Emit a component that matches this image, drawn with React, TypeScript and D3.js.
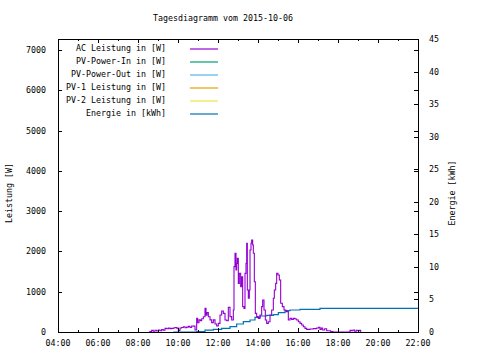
import React from "react";
import * as d3 from "d3";

// chart values
const TITLE = "Tagesdiagramm vom 2015-10-06";

const X_TICKS = ["04:00", "06:00", "08:00", "10:00", "12:00", "14:00", "16:00", "18:00", "20:00", "22:00"];
const Y_TICKS = [0, 1000, 2000, 3000, 4000, 5000, 6000, 7000];
const Y2_TICKS = [0, 5, 10, 15, 20, 25, 30, 35, 40, 45];

const LEGEND_LABELS = [
  "AC Leistung in [W]",
  "PV-Power-In in [W]",
  "PV-Power-Out in [W]",
  "PV-1 Leistung in [W]",
  "PV-2 Leistung in [W]",
  "Energie in [kWh]",
];
const LEGEND_COLORS = ["#9400d3", "#009e73", "#56b4e9", "#e69f00", "#f0e442", "#0072b2"];

const AC_TIMES = [
  "08:34", "08:41", "08:46", "08:51", "08:56", "09:01", "09:06", "09:11", "09:16", "09:21",
  "09:26", "09:31", "09:36", "09:41", "09:46", "09:51", "09:56", "10:01", "10:06", "10:11",
  "10:16", "10:21", "10:26", "10:31", "10:36", "10:41", "10:46", "10:51", "10:56", "10:59",
  "11:03", "11:07", "11:11", "11:16", "11:21", "11:24", "11:27", "11:31", "11:36", "11:41",
  "11:46", "11:51", "11:56", "12:01", "12:06", "12:11", "12:16", "12:21", "12:26", "12:31",
  "12:36", "12:41", "12:46", "12:48", "12:51", "12:54", "12:56", "12:58", "13:01", "13:04",
  "13:08", "13:11", "13:14", "13:18", "13:21", "13:24", "13:26", "13:28", "13:31", "13:34",
  "13:36", "13:39", "13:41", "13:44", "13:46", "13:49", "13:52", "13:56", "14:01", "14:06",
  "14:11", "14:14", "14:18", "14:22", "14:26", "14:31", "14:36", "14:41", "14:46", "14:49",
  "14:53", "14:56", "15:00", "15:04", "15:08", "15:13", "15:18", "15:24", "15:31", "15:36",
  "15:41", "15:46", "15:51", "15:56", "16:01", "16:06", "16:11", "16:16", "16:21", "16:26",
  "16:36", "16:46", "16:56", "17:02", "17:06", "17:10", "17:14", "17:20", "17:26", "17:32",
  "17:38", "17:45", "18:00", "18:30", "18:36", "18:40", "18:45", "18:50", "18:55", "19:00",
  "19:05", "19:08",
];
const AC_WATTS = [
  10, 40, 20, 45, 25, 50, 30, 60, 45, 90,
  80, 95, 85, 90, 100, 110, 95, 40, 100, 110,
  130, 105, 120, 140, 110, 150, 145, 50, 340, 230,
  300, 280, 330, 380, 590, 420, 480, 380, 300, 232,
  300, 199, 149, 215, 422, 521, 463, 298, 281, 612,
  381, 298, 546, 1622, 1953, 1539, 1704, 1828, 1208, 1456,
  1125, 1373, 629, 587, 1456, 1704, 2200, 1042, 836, 1042,
  2035, 2201, 2283, 2159, 1953, 1249, 463, 381, 339, 422,
  629, 794, 546, 298, 215, 256, 422, 546, 836, 1042,
  1208, 1456, 1415, 1291, 712, 629, 546, 505, 298, 339,
  314, 339, 323, 298, 256, 215, 174, 132, 91, 66,
  74, 83, 99, 116, 66, 99, 50, 80, 30, 30,
  10, 0, 0, 0, 40, 33, 50, 20, 45, 30,
  40, 0,
];

const ENERGY_TIMES = [
  "09:46", "10:56", "11:21", "11:46", "12:11", "12:36", "12:56", "13:16", "13:36", "13:51",
  "14:06", "14:26", "14:46", "15:01", "15:21", "15:36", "16:06", "17:06", "22:00",
];
const ENERGY_KWH = [
  0, 0.05, 0.3, 0.41, 0.56, 0.82, 1.23, 1.59, 1.84, 2.25,
  2.46, 2.56, 2.66, 2.97, 3.28, 3.38, 3.48, 3.64, 3.64,
];

const W = 480;
const H = 360;
const plot = { left: 58, right: 418, top: 39, bottom: 332 };
const FONT = "'DejaVu Sans Mono', monospace";
const FS = 8.3;

const toMin = (s: string) => {
  const [h, m] = s.split(":").map(Number);
  return h * 60 + m;
};

export default function App() {
  const x = d3.scaleLinear().domain([toMin("04:00"), toMin("22:00")]).range([plot.left, plot.right]);
  const y = d3.scaleLinear().domain([0, 7272]).range([plot.bottom, plot.top]);
  const y2 = d3.scaleLinear().domain([0, 45]).range([plot.bottom, plot.top]);

  const acData = AC_TIMES.map((t, i) => [toMin(t), AC_WATTS[i]] as [number, number]);
  const enData = ENERGY_TIMES.map((t, i) => [toMin(t), ENERGY_KWH[i]] as [number, number]);

  const acLine = d3.line<[number, number]>().x(d => x(d[0])).y(d => y(d[1])).curve(d3.curveStepAfter);
  const enLine = d3.line<[number, number]>().x(d => x(d[0])).y(d => y2(d[1])).curve(d3.curveStepAfter);

  // hourly ticks on the time axis, every 2h labelled
  const hourTicks = d3.range(toMin("04:00"), toMin("22:00") + 1, 60);

  const r = (v: number) => Math.round(v) + 0.5;

  return (
    <svg
      width={W}
      height={H}
      style={{ position: "absolute", left: 0, top: 0, background: "#fff" }}
      fontFamily={FONT}
      fontSize={FS}
    >
      <text x={223} y={21} textAnchor="middle" fill="#000">{TITLE}</text>

      {/* data */}
      <path d={enLine(enData) || ""} fill="none" stroke={LEGEND_COLORS[5]} strokeWidth={1.2} />
      <path d={acLine(acData) || ""} fill="none" stroke={LEGEND_COLORS[0]} strokeWidth={1.1} />

      <g shapeRendering="crispEdges" stroke="#000" strokeWidth={1}>
        {/* x ticks bottom and top */}
        {hourTicks.map((t, i) => {
          const len = i % 2 === 0 ? 4 : 2;
          const xx = r(x(t));
          return (
            <g key={"xt" + t}>
              <line x1={xx} x2={xx} y1={plot.bottom} y2={plot.bottom - len} />
              <line x1={xx} x2={xx} y1={plot.top} y2={plot.top + len} />
            </g>
          );
        })}
        {/* left ticks, mirrored on the right */}
        {Y_TICKS.map(v => {
          const yy = r(y(v));
          return (
            <g key={"yt" + v}>
              <line x1={plot.left} x2={plot.left + 4} y1={yy} y2={yy} />
              <line x1={plot.right} x2={plot.right - 4} y1={yy} y2={yy} />
            </g>
          );
        })}
        {Y2_TICKS.map(v => {
          const yy = r(y2(v));
          return <line key={"y2t" + v} x1={plot.right} x2={plot.right - 4} y1={yy} y2={yy} />;
        })}
        <rect
          x={plot.left + 0.5}
          y={plot.top + 0.5}
          width={plot.right - plot.left}
          height={plot.bottom - plot.top}
          fill="none"
        />
      </g>

      {/* tick labels */}
      {X_TICKS.map(s => (
        <text key={s} x={x(toMin(s))} y={346} textAnchor="middle" fill="#000">{s}</text>
      ))}
      {Y_TICKS.map(v => (
        <text key={"yl" + v} x={46} y={y(v) + 3} textAnchor="end" fill="#000">{v}</text>
      ))}
      {Y2_TICKS.map(v => (
        <text key={"y2l" + v} x={429} y={y2(v) + 3} textAnchor="start" fill="#000">{v}</text>
      ))}

      <text transform="translate(12,193) rotate(-90)" textAnchor="middle" fill="#000">Leistung [W]</text>
      <text transform="translate(455,193) rotate(-90)" textAnchor="middle" fill="#000">Energie [kWh]</text>

      {/* legend */}
      {LEGEND_LABELS.map((lab, i) => (
        <g key={lab}>
          <text x={166} y={50.5 + i * 13} textAnchor="end" fill="#000">{lab}</text>
          <line
            x1={190}
            x2={218}
            y1={49 + i * 13}
            y2={49 + i * 13}
            stroke={LEGEND_COLORS[i]}
            strokeWidth={1.2}
          />
        </g>
      ))}
    </svg>
  );
}
